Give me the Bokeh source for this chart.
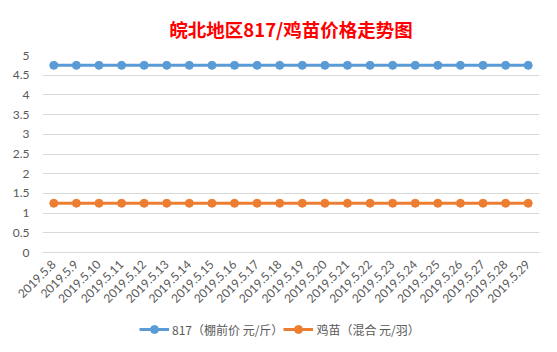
import math
from bokeh.plotting import figure
from bokeh.layouts import column
from bokeh.models import Legend, LegendItem, FixedTicker, Range1d
from bokeh.embed import file_html
from bokeh.resources import INLINE

dates = ["2019.5.%d" % d for d in range(8, 30)]
price_817 = [4.75] * 22
price_chick = [1.25] * 22
y_ticks = [0, 0.5, 1, 1.5, 2, 2.5, 3, 3.5, 4, 4.5, 5]
y_tick_labels = ["0", "0.5", "1", "1.5", "2", "2.5", "3", "3.5", "4", "4.5", "5"]
series_names = ["817（棚前价 元/斤）", "鸡苗（混合 元/羽）"]
title_text = "皖北地区817/鸡苗价格走势图"

BLUE = "#5B9BD5"
ORANGE = "#ED7D31"
GRAY = "#595959"
CJK = "Noto Sans CJK SC"

p = figure(width=557, height=312, x_range=dates, y_range=Range1d(0, 5.0),
           output_backend="svg", toolbar_location=None,
           min_border_left=42, min_border_right=18, min_border_top=54, min_border_bottom=60)

p.title.text = title_text
p.title.align = "center"
p.title.text_color = "#FF0000"
p.title.text_font = CJK
p.title.text_font_style = "bold"
p.title.text_font_size = "18.5px"
p.title.offset = 0
p.title.standoff = 27

p.outline_line_color = None
p.background_fill_color = "white"
p.border_fill_color = "white"

# y axis
p.yaxis.ticker = FixedTicker(ticks=y_ticks)
p.yaxis.major_label_overrides = {t: l for t, l in zip(y_ticks, y_tick_labels)}
p.yaxis.axis_line_color = None
p.yaxis.major_tick_line_color = None
p.yaxis.minor_tick_line_color = None
p.yaxis.major_label_text_color = GRAY
p.yaxis.major_label_text_font = "Lato"
p.yaxis.major_label_text_font_size = "12px"
p.yaxis.major_label_standoff = 7

# x axis
p.xaxis.axis_line_color = "#D9D9D9"
p.xaxis.major_tick_line_color = None
p.xaxis.minor_tick_line_color = None
p.xaxis.major_label_orientation = math.pi / 4
p.xaxis.major_label_text_color = GRAY
p.xaxis.major_label_text_font = "Lato"
p.xaxis.major_label_text_font_size = "12px"
p.xaxis.major_label_standoff = 4

p.xgrid.grid_line_color = None
p.ygrid.grid_line_color = "#D9D9D9"
p.ygrid.grid_line_width = 1

p.line(dates, price_817, line_color=BLUE, line_width=3)
p.scatter(dates, price_817, size=8, fill_color=BLUE, line_color=BLUE)
p.line(dates, price_chick, line_color=ORANGE, line_width=3)
p.scatter(dates, price_chick, size=8, fill_color=ORANGE, line_color=ORANGE)

# legend strip below the chart (same series, drawn outside its visible range)
lg = figure(width=557, height=40, x_range=dates, y_range=Range1d(20, 21),
            output_backend="svg", toolbar_location=None,
            min_border=0)
lg.axis.visible = False
lg.grid.visible = False
lg.outline_line_color = None
lg.background_fill_color = "white"
lg.border_fill_color = "white"
r1 = lg.line(dates, price_817, line_color=BLUE, line_width=3)
q1 = lg.scatter(dates, price_817, size=8, fill_color=BLUE, line_color=BLUE)
r2 = lg.line(dates, price_chick, line_color=ORANGE, line_width=3)
q2 = lg.scatter(dates, price_chick, size=8, fill_color=ORANGE, line_color=ORANGE)

legend = Legend(items=[LegendItem(label=series_names[0], renderers=[r1, q1]),
                       LegendItem(label=series_names[1], renderers=[r2, q2])],
                orientation="horizontal", location=(97, 13),
                border_line_color=None, background_fill_alpha=0,
                label_text_font=CJK, label_text_font_size="12px",
                label_text_color=GRAY, glyph_width=30, spacing=0,
                label_standoff=3, padding=2, margin=0)
lg.add_layout(legend, "center")

layout = column(p, lg, spacing=0)
open("out.html", "w").write(file_html(layout, INLINE))
